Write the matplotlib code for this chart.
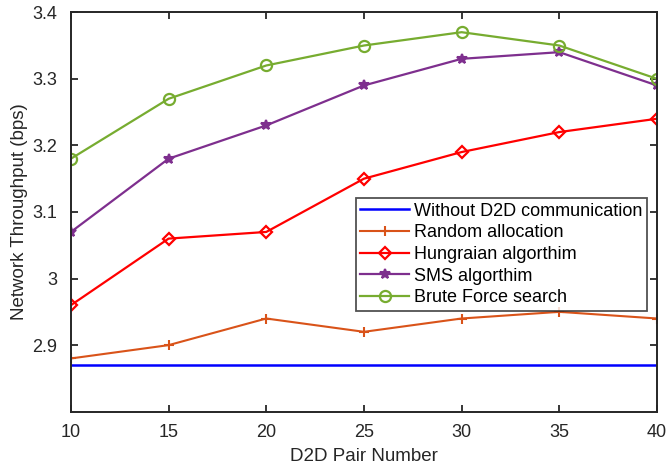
import matplotlib
matplotlib.use('Agg')
import matplotlib.pyplot as plt

# D2D pair counts and throughput per scheme
pairs = [10, 15, 20, 25, 30, 35, 40]
without_d2d = [2.87, 2.87, 2.87, 2.87, 2.87, 2.87, 2.87]
random_alloc = [2.88, 2.90, 2.94, 2.92, 2.94, 2.95, 2.94]
hungarian = [2.96, 3.06, 3.07, 3.15, 3.19, 3.22, 3.24]
sms = [3.07, 3.18, 3.23, 3.29, 3.33, 3.34, 3.29]
brute_force = [3.18, 3.27, 3.32, 3.35, 3.37, 3.35, 3.30]

ytick_vals = [2.9, 3.0, 3.1, 3.2, 3.3, 3.4]
ytick_labels = ['2.9', '3', '3.1', '3.2', '3.3', '3.4']

plt.rcParams['font.family'] = ['Liberation Sans', 'DejaVu Sans']

fig = plt.figure(figsize=(6.69, 4.70), dpi=100)
ax = fig.add_axes([0.106, 0.124, 0.876, 0.850])

ax.plot(pairs, without_d2d, color='#0000ff', lw=1.8, label='Without D2D communication')
ax.plot(pairs, random_alloc, color='#d95319', lw=1.5, marker='+', ms=7, mew=1.5,
        label='Random allocation')
ax.plot(pairs, hungarian, color='#ff0000', lw=1.6, marker='D', ms=6, mew=1.6,
        mfc='none', label='Hungraian algorthim')
ax.plot(pairs, sms, color='#7e2f8e', lw=1.6, marker='*', ms=7, mew=1.5,
        label='SMS algorthim')
ax.plot(pairs, brute_force, color='#77ac30', lw=1.6, marker='o', ms=8, mew=1.6,
        mfc='none', label='Brute Force search')

ax.set_xlim(10, 40)
ax.set_ylim(2.8, 3.4)
ax.set_xticks(pairs)
ax.set_yticks(ytick_vals)
ax.set_yticklabels(ytick_labels)
ax.tick_params(direction='in', top=True, right=True, length=5, width=1.3,
               labelsize=13, colors='#262626')
ax.tick_params(axis='x', pad=9)
ax.tick_params(axis='y', pad=10)
for sp in ax.spines.values():
    sp.set_linewidth(1.4)
    sp.set_color('#262626')

ax.set_xlabel('D2D Pair Number', fontsize=13.5, color='#262626', labelpad=5)
ax.set_ylabel('Network Throughput (bps)', fontsize=13.5, color='#262626', labelpad=3)

leg = ax.legend(loc='upper left', bbox_to_anchor=(0.486, 0.535), fontsize=13,
                frameon=True, fancybox=False, edgecolor='#262626',
                borderpad=0.25, labelspacing=0.26, handlelength=2.7,
                handletextpad=0.3, borderaxespad=0)
leg.get_frame().set_linewidth(1.3)

fig.savefig('out.png', dpi=100)
